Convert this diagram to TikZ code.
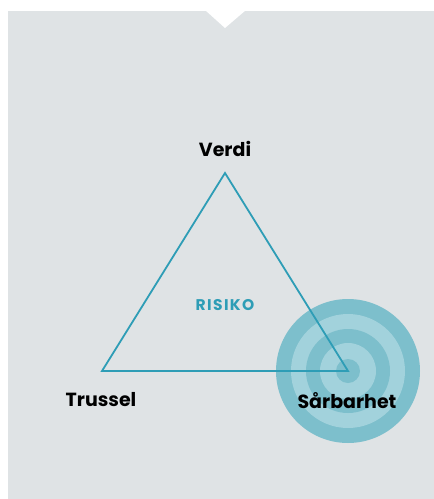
\documentclass[tikz,border=0pt]{standalone}
\usepackage{fontspec}
\setmainfont{Poppins}
\usetikzlibrary{positioning}

\definecolor{bakgrunn}{HTML}{DFE3E5}
\definecolor{linje}{HTML}{2E9DB6}
\definecolor{ringmork}{HTML}{7DBFCC}
\definecolor{ringlys}{HTML}{A2D2DC}

\begin{document}
\begin{tikzpicture}[
    x=1pt,
    y=-1pt,
    hjorne/.style={
        font=\bfseries\fontsize{19}{19}\selectfont,
        text=black,
        inner sep=0pt
    },
    midt/.style={
        font=\bfseries\fontsize{15.5}{15.5}\selectfont\addfontfeature{LetterSpace=9},
        text=linje,
        inner sep=0pt
    },
    kant/.style={draw=linje, line width=1.8pt, line join=miter}
]

% ============================================================
% BAKGRUNN MED HAKK
% ============================================================
\useasboundingbox (0,0) rectangle (434,499);
\fill[bakgrunn] (8,11) rectangle (434,499);
\fill[white] (205,10) -- (246,10) -- (225,28) -- cycle;

% ============================================================
% HJØRNER OG BLINK
% ============================================================
\coordinate (verdi) at (225,173);
\coordinate (trussel) at (102,371);
\coordinate (sarbarhet) at (348,371);

\foreach \r/\c in {72/ringmork,57/ringlys,42/ringmork,28/ringlys,12/ringmork}
    \fill[\c] (sarbarhet) circle[radius=\r];

\draw[kant] (verdi) -- (trussel) -- (sarbarhet) -- cycle;

% ============================================================
% TEKSTER
% ============================================================
\node[hjorne, above=16pt of verdi] (verditekst) {Verdi};
\node[hjorne, below=21pt of trussel, xshift=-1pt] (trusseltekst) {Trussel};
\node[hjorne, below=21pt of sarbarhet, xshift=-1pt] (sarbarhettekst) {Sårbarhet};
\node[midt] (risiko) at (barycentric cs:verdi=1,trussel=1,sarbarhet=1) {RISIKO};

\end{tikzpicture}
\end{document}
